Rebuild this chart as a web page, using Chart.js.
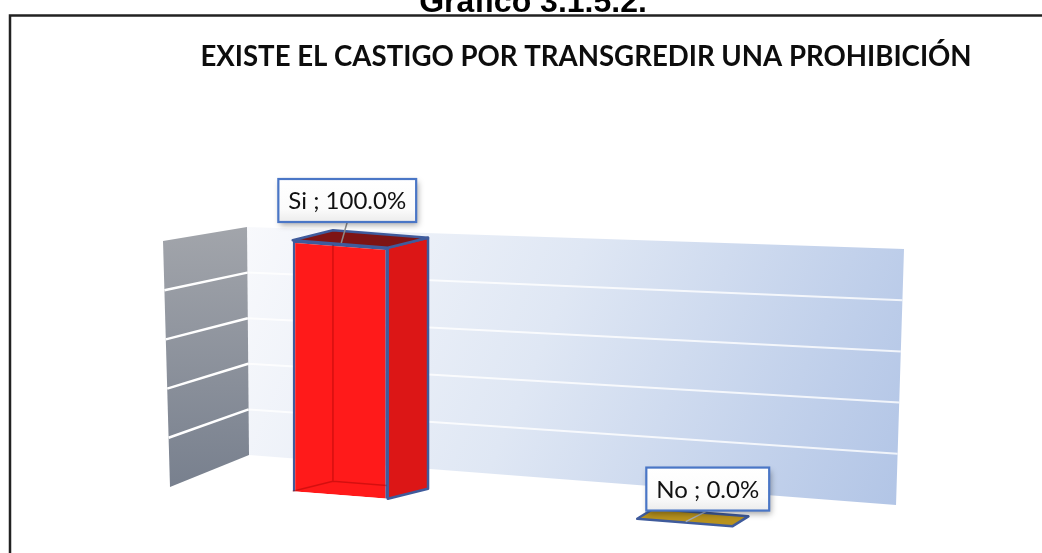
<!DOCTYPE html>
<html>
<head>
<meta charset="utf-8">
<script src="https://cdn.jsdelivr.net/npm/chart.js@4.4.1/dist/chart.umd.min.js"></script>
<style>
  html, body { margin: 0; padding: 0; background: #fff; overflow: hidden; }
  canvas { display: block; }
</style>
</head>
<body>
<canvas id="grafico" width="1042" height="553"></canvas>
<script>
// --- DATOS ---
const categorias = ['Si', 'No'];
const porcentajes = [100, 0];
const valoresEje = [0, 20, 40, 60, 80, 100];

// --- ESTILO ---
const coloresFrente = ['#ff1a1a', '#b8921d'];
const coloresLado = ['#dc1616', '#a07e18'];
const coloresTapa = ['#7e1414', '#b8921d'];
const bordeBarra = '#3f5b9c';
const sesgo = 0.08; // inclinacion de la cara frontal (efecto 3D)

// paredes del grafico 3D (decorado)
const paredFondo = { tl: [247, 227], tr: [904, 249], br: [896, 505], bl: [249, 455] };
const paredIzq = { tl: [163, 241], tr: [247, 227], br: [249, 455], bl: [170, 487] };

function lerp(a, b, t) { return [a[0] + (b[0] - a[0]) * t, a[1] + (b[1] - a[1]) * t]; }

function poligono(ctx, pts) {
    ctx.beginPath();
    ctx.moveTo(pts[0][0], pts[0][1]);
    for (let i = 1; i < pts.length; i++) ctx.lineTo(pts[i][0], pts[i][1]);
    ctx.closePath();
}

function pivote(chart) { return chart.scales.x.getPixelForValue(0); }

const efecto3D = {
    id: 'efecto3D',
    beforeDatasetsDraw(chart) {
        const ctx = chart.ctx;
        const y = chart.scales.y;
        const area = chart.chartArea;
        ctx.save();

        // pared del fondo
        let g = ctx.createLinearGradient(paredFondo.tl[0], paredFondo.tl[1], paredFondo.br[0], paredFondo.br[1]);
        g.addColorStop(0, '#f8f9fc');
        g.addColorStop(0.45, '#dfe7f4');
        g.addColorStop(1, '#b2c5e6');
        poligono(ctx, [paredFondo.tl, paredFondo.tr, paredFondo.br, paredFondo.bl]);
        ctx.fillStyle = g;
        ctx.fill();

        // pared izquierda
        g = ctx.createLinearGradient(0, paredIzq.tr[1], 0, paredIzq.bl[1]);
        g.addColorStop(0, '#a2a5ab');
        g.addColorStop(1, '#78808e');
        poligono(ctx, [paredIzq.tl, paredIzq.tr, paredIzq.br, paredIzq.bl]);
        ctx.fillStyle = g;
        ctx.fill();

        // lineas de division a partir de la escala
        valoresEje.forEach(v => {
            const t = (area.bottom - y.getPixelForValue(v)) / area.height;
            if (t <= 0.001 || t >= 0.999) return;
            ctx.lineWidth = 2;
            ctx.strokeStyle = 'rgba(255,255,255,0.8)';
            let a = lerp(paredFondo.bl, paredFondo.tl, t), b = lerp(paredFondo.br, paredFondo.tr, t);
            ctx.beginPath(); ctx.moveTo(a[0], a[1]); ctx.lineTo(b[0], b[1]); ctx.stroke();
            ctx.lineWidth = 2.5;
            ctx.strokeStyle = '#ffffff';
            a = lerp(paredIzq.bl, paredIzq.tl, t); b = lerp(paredIzq.br, paredIzq.tr, t);
            ctx.beginPath(); ctx.moveTo(a[0], a[1]); ctx.lineTo(b[0], b[1]); ctx.stroke();
        });
        ctx.restore();

        // la cara frontal se dibuja inclinada
        const p = pivote(chart);
        ctx.save();
        ctx.transform(1, sesgo, 0, 1, 0, -sesgo * p);
    },
    afterDatasetsDraw(chart) {
        const ctx = chart.ctx;
        ctx.restore();
        const p = pivote(chart);
        const P = (x, y) => [x, y + sesgo * (x - p)];
        const mas = (a, d) => [a[0] + d[0], a[1] + d[1]];
        const meta = chart.getDatasetMeta(0);

        ctx.save();
        ctx.lineJoin = 'round';
        meta.data.forEach((bar, i) => {
            const { x, y, base, width } = bar.getProps(['x', 'y', 'base', 'width'], true);
            const xl = x - width / 2, xr = x + width / 2;
            const d = [0.07 * (chart.chartArea.right + 58 - x), -10];
            const flt = P(xl, y), frt = P(xr, y), frb = P(xr, base), flb = P(xl, base);

            if (Math.abs(base - y) > 1) {
                // aristas ocultas vistas por transparencia
                ctx.strokeStyle = 'rgba(150,0,0,0.4)';
                ctx.lineWidth = 1.5;
                ctx.beginPath();
                ctx.moveTo(...mas(flt, d)); ctx.lineTo(...mas(flb, d)); ctx.lineTo(...mas(frb, d));
                ctx.moveTo(...flb); ctx.lineTo(...mas(flb, d));
                ctx.stroke();

                // cara lateral
                poligono(ctx, [frt, frb, mas(frb, d), mas(frt, d)]);
                ctx.fillStyle = coloresLado[i];
                ctx.fill();
                ctx.strokeStyle = bordeBarra;
                ctx.lineWidth = 2.5;
                ctx.stroke();
            }
            // tapa superior
            poligono(ctx, [flt, frt, mas(frt, d), mas(flt, d)]);
            ctx.fillStyle = coloresTapa[i];
            ctx.fill();
            ctx.strokeStyle = bordeBarra;
            ctx.lineWidth = 2.5;
            ctx.stroke();
        });
        ctx.restore();
    }
};

const etiquetas = {
    id: 'etiquetas',
    afterDraw(chart, args, opts) {
        const ctx = chart.ctx;
        const p = pivote(chart);
        const meta = chart.getDatasetMeta(0);

        ctx.save();
        // encabezado y marco
        ctx.fillStyle = '#000';
        ctx.font = 'bold 32px "Liberation Sans", Arial, sans-serif';
        ctx.textAlign = 'center';
        ctx.textBaseline = 'alphabetic';
        ctx.fillText('Gráfico 3.1.5.2.', 533, 12);
        ctx.strokeStyle = '#222';
        ctx.lineWidth = 2.5;
        ctx.beginPath();
        ctx.moveTo(10, 553); ctx.lineTo(10, 15.5); ctx.lineTo(1042, 15.5);
        ctx.stroke();

        // titulo
        ctx.fillStyle = '#0d0d0d';
        ctx.font = 'bold 27.6px Lato, "Open Sans", sans-serif';
        ctx.fillText('EXISTE EL CASTIGO POR TRANSGREDIR UNA PROHIBICIÓN', 586, 66);

        // etiquetas de datos
        ctx.font = '24px Lato, "Open Sans", sans-serif';
        meta.data.forEach((bar, i) => {
            const { x, y } = bar.getProps(['x', 'y'], true);
            const ax = x, ay = y + sesgo * (x - p);
            const [nx, ny] = opts.desplazamientos[i];
            const texto = categorias[i] + ' ; ' + porcentajes[i].toFixed(1) + '%';
            const w = ctx.measureText(texto).width + 20, h = 43;
            const cx = ax + nx, bottom = ay + ny;
            const left = cx - w / 2, top = bottom - h;

            // linea guia
            ctx.strokeStyle = i === 0 ? '#8c8c8c' : '#a4acba';
            ctx.lineWidth = 1.5;
            ctx.beginPath(); ctx.moveTo(cx, bottom); ctx.lineTo(ax + 1, ay - 1); ctx.stroke();

            // caja
            ctx.save();
            ctx.shadowColor = 'rgba(0,0,0,0.35)';
            ctx.shadowBlur = 6;
            ctx.shadowOffsetX = 2;
            ctx.shadowOffsetY = 3;
            const g = ctx.createLinearGradient(0, top, 0, bottom);
            g.addColorStop(0, '#ffffff');
            g.addColorStop(0.7, '#fbfbfb');
            g.addColorStop(1, '#ececec');
            ctx.fillStyle = g;
            ctx.fillRect(left, top, w, h);
            ctx.restore();
            ctx.strokeStyle = '#4a76c6';
            ctx.lineWidth = 2.2;
            ctx.strokeRect(left, top, w, h);

            ctx.fillStyle = '#111';
            ctx.textAlign = 'center';
            ctx.textBaseline = 'middle';
            ctx.fillText(texto, cx, top + h / 2 + 1);
        });
        ctx.restore();
    }
};

new Chart(document.getElementById('grafico'), {
    type: 'bar',
    data: {
        labels: categorias,
        datasets: [{
            data: porcentajes,
            backgroundColor: coloresFrente,
            borderColor: bordeBarra,
            borderWidth: 2.5,
            barPercentage: 0.276,
            categoryPercentage: 1,
            clip: false
        }]
    },
    options: {
        responsive: false,
        animation: false,
        devicePixelRatio: 1,
        layout: { padding: { left: 168, right: 185, top: 244, bottom: 58 } },
        scales: {
            x: { display: false },
            y: { display: false, min: 0, max: 100, ticks: { stepSize: 20 } }
        },
        plugins: {
            legend: { display: false },
            tooltip: { enabled: false },
            etiquetas: { desplazamientos: [[7, -22], [23, -12]] }
        }
    },
    plugins: [efecto3D, etiquetas]
});
</script>
</body>
</html>
